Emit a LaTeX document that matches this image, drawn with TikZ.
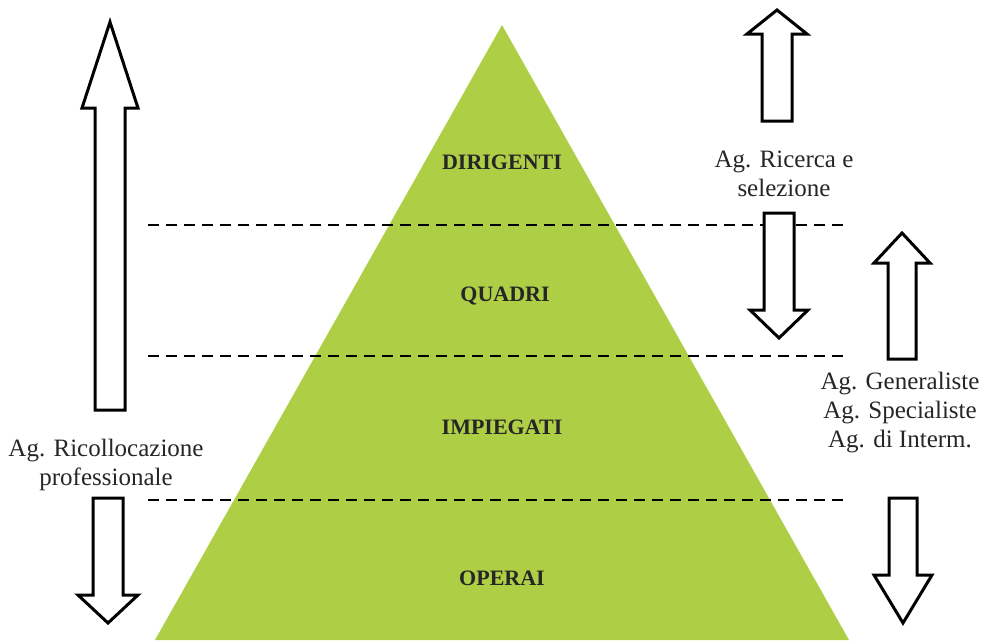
\documentclass[tikz,border=0pt]{standalone}
\usepackage{fontspec}
\setmainfont{Liberation Serif}
\usepackage{tikz}

\definecolor{pyrgreen}{RGB}{174,207,69}

% block arrow: x, y tail, y head base, y tip, half shaft, half head
\newcommand{\blockarrow}[6]{%
  \draw[arrowbox] ({#1-#5},#2) -- ({#1-#5},#3) -- ({#1-#6},#3) -- (#1,#4)
    -- ({#1+#6},#3) -- ({#1+#5},#3) -- ({#1+#5},#2) -- cycle;}

\tikzset{
  arrowbox/.style={draw=black,fill=white,line width=3pt,line join=miter},
  levelline/.style={black,line width=2.4pt,dash pattern=on 11pt off 7pt},
  level/.style={font=\fontsize{22}{26}\selectfont\bfseries,text=black!85},
  agency/.style={font=\fontsize{25}{29}\selectfont,text=black!85,align=center}
}

\begin{document}
\begin{tikzpicture}[x=1pt,y=-1pt]
		\useasboundingbox (0,0) rectangle (984,640);
		\coordinate (apex) at (502,25);
		\coordinate (baseL) at (155,640);
		\coordinate (baseR) at (849,640);
		\fill[pyrgreen] (apex) -- (baseL) -- (baseR) -- cycle;
		% level separators
		\foreach \y in {225,356,500}
		\draw[levelline] (148,\y) -- (848,\y);
		\node[level] (dir) at (502,162) {DIRIGENTI};
		\node[level] (qua) at (505,296) {QUADRI};
		\node[level] (imp) at (502,427) {IMPIEGATI};
		\node[level] (ope) at (502,578) {OPERAI};
		% arrows
		\blockarrow{110}{410}{108}{22}{15}{28}
		\blockarrow{108}{498}{595}{623}{15}{30}
		\blockarrow{777}{121}{34}{10}{15}{30}
		\blockarrow{779}{213}{310}{338}{15}{29}
		\blockarrow{902}{359}{263}{233}{14}{28}
		\blockarrow{903}{498}{575}{623}{14}{29}
		% agencies
		\node[agency] (ricerca) at (784,174) {Ag. Ricerca e\\selezione};
		\node[agency] (ricoll) at (106,465) {Ag. Ricollocazione\\professionale};
		\node[agency] (gener) at (900,413) {Ag. Generaliste\\Ag. Specialiste\\Ag. di Interm.};
	    \end{tikzpicture}
\end{document}
